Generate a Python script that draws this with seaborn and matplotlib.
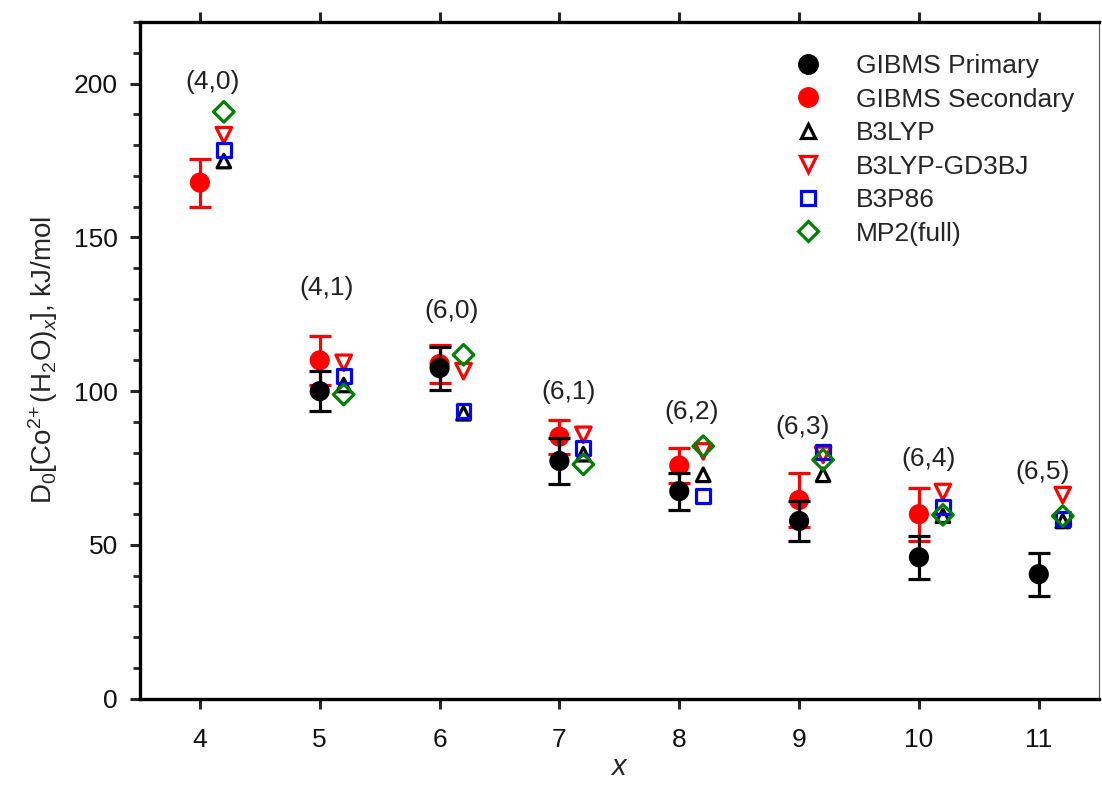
import numpy as np
import pandas as pd
import matplotlib
matplotlib.use("Agg")
import matplotlib.pyplot as plt
from matplotlib.lines import Line2D
from matplotlib.ticker import MultipleLocator
import seaborn as sns

# Cluster sizes and measured / computed bond energies (kJ/mol)
x_primary = [5, 6, 7, 8, 9, 10, 11]
gibms_primary = [100.0, 107.5, 77.3, 67.5, 57.8, 46.0, 40.5]
gibms_primary_err = [6.4, 7.0, 7.6, 6.0, 6.5, 7.0, 7.0]

x_secondary = [4, 5, 6, 7, 8, 9, 10]
gibms_secondary = [167.8, 110.0, 108.8, 85.2, 75.8, 64.6, 60.0]
gibms_secondary_err = [7.8, 8.0, 6.3, 5.5, 5.8, 8.7, 8.6]

x_calc = [4, 5, 6, 7, 8, 9, 10, 11]
b3lyp = [174.8, 102.0, 92.8, 79.5, 72.8, 72.8, 59.5, 57.8]
b3lyp_gd3bj = [183.2, 109.2, 106.5, 85.8, 80.4, 79.3, 67.2, 66.2]
b3p86 = [178.4, 105.0, 93.6, 81.4, 65.8, 80.2, 62.2, 58.4]
mp2_full = [190.8, 98.9, 111.8, 76.2, 82.1, 77.7, 59.8, 59.4]

# Structure labels (inner shell, outer shell)
struct_labels = ["(4,0)", "(4,1)", "(6,0)", "(6,1)", "(6,2)", "(6,3)", "(6,4)", "(6,5)"]
struct_x = [4.11, 5.06, 6.1, 7.08, 8.1, 9.03, 10.08, 11.03]
struct_y = [200.5, 133.5, 126.0, 99.8, 93.2, 88.4, 78.0, 73.8]

xticks = [4, 5, 6, 7, 8, 9, 10, 11]
yticks = [0, 50, 100, 150, 200]

sns.set_theme(style="ticks")
plt.rcParams["font.family"] = ["Liberation Sans", "DejaVu Sans"]
plt.rcParams["mathtext.fontset"] = "custom"
plt.rcParams["mathtext.rm"] = "Liberation Sans"
plt.rcParams["mathtext.it"] = "Liberation Sans:italic"

FS = 19
fig = plt.figure(figsize=(11.02, 7.86), dpi=100)
ax = fig.add_axes([0.127, 0.111, 0.870, 0.861])

calc_shift = 0.2
xc = np.array(x_calc) + calc_shift

open_series = [
    ("B3LYP", b3lyp, "^", "black", 95),
    ("B3LYP-GD3BJ", b3lyp_gd3bj, "v", "red", 125),
    ("B3P86", b3p86, "s", "blue", 100),
    ("MP2(full)", mp2_full, "D", "green", 110),
]
for name, vals, mk, col, size in open_series:
    df = pd.DataFrame({"x": xc, "y": vals})
    sns.scatterplot(data=df, x="x", y="y", marker=mk, s=size,
                    facecolors="none", edgecolor=col, linewidth=2.3,
                    ax=ax, zorder=3)

# Secondary (red) then primary (black) experimental thresholds with uncertainties
ax.errorbar(x_secondary, gibms_secondary, yerr=gibms_secondary_err, fmt="none",
            ecolor="red", elinewidth=2.3, capsize=8, capthick=2.3, zorder=4)
sns.scatterplot(x=x_secondary, y=gibms_secondary, color="red", s=210,
                edgecolor="none", ax=ax, zorder=5)
ax.errorbar(x_primary, gibms_primary, yerr=gibms_primary_err, fmt="none",
            ecolor="black", elinewidth=2.3, capsize=8, capthick=2.3, zorder=6)
sns.scatterplot(x=x_primary, y=gibms_primary, color="black", s=210,
                edgecolor="none", ax=ax, zorder=7)

for lab, tx, ty in zip(struct_labels, struct_x, struct_y):
    ax.text(tx, ty, lab, ha="center", va="center", fontsize=FS, color="#222222")

ax.set_xlim(3.5, 11.5)
ax.set_ylim(0, 220)
ax.set_xticks(xticks)
ax.set_yticks(yticks)
ax.yaxis.set_minor_locator(MultipleLocator(10))
ax.tick_params(axis="both", which="major", direction="out", length=7, width=2.2,
               labelsize=FS, top=True, right=False, labelcolor="#111111")
ax.tick_params(axis="x", which="major", pad=14)
ax.tick_params(axis="y", which="major", pad=9)
ax.tick_params(axis="y", which="minor", direction="out", length=5, width=2.0,
               right=False)
for s in ["left", "bottom", "top"]:
    ax.spines[s].set_linewidth(2.4)
    ax.spines[s].set_color("black")
ax.spines["right"].set_linewidth(0.8)
ax.spines["right"].set_color("#555555")

ax.set_xlabel("$\\mathit{x}$", fontsize=FS + 2, labelpad=1)
ax.set_ylabel("D$_0$[Co$^{2\\!+}$(H$_2$O)$_{\\mathit{x}}$], kJ/mol",
              fontsize=FS + 1, labelpad=10)

handles = [
    Line2D([], [], ls="none", marker="o", color="black", ms=14),
    Line2D([], [], ls="none", marker="o", color="red", ms=14),
    Line2D([], [], ls="none", marker="^", mfc="none", mec="black", mew=2.3, ms=9.8),
    Line2D([], [], ls="none", marker="v", mfc="none", mec="red", mew=2.3, ms=11),
    Line2D([], [], ls="none", marker="s", mfc="none", mec="blue", mew=2.3, ms=10),
    Line2D([], [], ls="none", marker="D", mfc="none", mec="green", mew=2.3, ms=10.5),
]
labels = ["GIBMS Primary", "GIBMS Secondary", "B3LYP", "B3LYP-GD3BJ", "B3P86", "MP2(full)"]
ax.legend(handles, labels, loc="upper left", bbox_to_anchor=(0.664, 0.968),
          frameon=False, fontsize=FS, handletextpad=1.0, handlelength=1.6,
          labelspacing=0.36, borderaxespad=0)

fig.savefig("out.png", dpi=100)
